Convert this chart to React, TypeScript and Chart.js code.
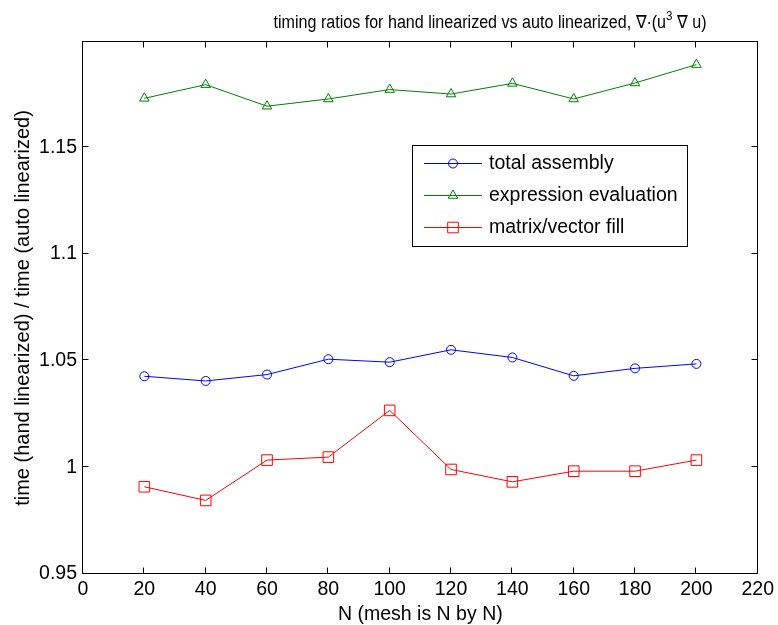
import React, { useEffect, useRef } from 'react';
import { Chart, registerables } from 'chart.js';

Chart.register(...registerables);

const nValues = [20, 40, 60, 80, 100, 120, 140, 160, 180, 200];
const totalAssembly = [1.0426, 1.0404, 1.0434, 1.0506, 1.0492, 1.055, 1.0514, 1.0428, 1.0463, 1.0484];
const expressionEvaluation = [1.1729, 1.1793, 1.1692, 1.1726, 1.177, 1.1749, 1.1799, 1.1726, 1.1801, 1.1887];
const matrixVectorFill = [0.9908, 0.9844, 1.0033, 1.0047, 1.0266, 0.9989, 0.9931, 0.9981, 0.9981, 1.0033];
const seriesNames = ['total assembly', 'expression evaluation', 'matrix/vector fill'];
const xTickValues = [0, 20, 40, 60, 80, 100, 120, 140, 160, 180, 200, 220];
const yTickValues = [0.95, 1, 1.05, 1.1, 1.15];
const titleMain = 'timing ratios for hand linearized vs auto linearized, \u2207\u00b7(u';
const titleSup = '3';
const titleTail = ' \u2207 u)';
const xAxisTitle = 'N (mesh is N by N)';
const yAxisTitle = 'time (hand linearized) / time (auto linearized)';

const FONT = '"Liberation Sans", Arial, Helvetica, sans-serif';
const FS = 19.5;
const TITLE_FS = 18;
const YLABEL_FS = 20;

function drawMarker(ctx: CanvasRenderingContext2D, style: string, x: number, y: number, color: string) {
  ctx.save();
  ctx.strokeStyle = color;
  ctx.lineWidth = 1;
  ctx.beginPath();
  if (style === 'circle') {
    ctx.arc(x, y, 4.5, 0, Math.PI * 2);
  } else if (style === 'triangle') {
    const r = 5.5;
    let a = 0;
    ctx.moveTo(x + Math.sin(a) * r, y - Math.cos(a) * r);
    a += (2 * Math.PI) / 3;
    ctx.lineTo(x + Math.sin(a) * r, y - Math.cos(a) * r);
    a += (2 * Math.PI) / 3;
    ctx.lineTo(x + Math.sin(a) * r, y - Math.cos(a) * r);
    ctx.closePath();
  } else {
    const h = 5.3;
    ctx.rect(x - h, y - h, 2 * h, 2 * h);
  }
  ctx.stroke();
  ctx.restore();
}

const decorPlugin = {
  id: 'decor',
  afterDraw(chart: any) {
    const ctx: CanvasRenderingContext2D = chart.ctx;
    const { left, right, top, bottom } = chart.chartArea;
    const xs = chart.scales.x;
    const ys = chart.scales.y;
    ctx.save();
    ctx.strokeStyle = '#000';
    ctx.lineWidth = 1;
    const L = Math.round(left) - 0.5;
    const R = Math.round(right) - 0.5;
    const T = Math.round(top) - 0.5;
    const B = Math.round(bottom) - 0.5;
    ctx.strokeRect(L, T, R - L, B - T);
    const tl = 6;
    ctx.beginPath();
    xTickValues.forEach((v) => {
      const px = Math.round(xs.getPixelForValue(v)) - 0.5;
      ctx.moveTo(px, B);
      ctx.lineTo(px, B - tl);
      ctx.moveTo(px, T);
      ctx.lineTo(px, T + tl);
    });
    yTickValues.forEach((v) => {
      const py = Math.round(ys.getPixelForValue(v)) - 0.5;
      ctx.moveTo(L, py);
      ctx.lineTo(L + tl, py);
      ctx.moveTo(R, py);
      ctx.lineTo(R - tl, py);
    });
    ctx.stroke();

    // Title with superscript (condensed to match the reference width)
    ctx.fillStyle = '#000';
    ctx.textBaseline = 'alphabetic';
    ctx.textAlign = 'left';
    const mainFont = `${FS}px ${FONT}`;
    const tFont = `${TITLE_FS}px ${FONT}`;
    const supFont = `${Math.round(TITLE_FS * 0.72)}px ${FONT}`;
    ctx.font = tFont;
    const w1 = ctx.measureText(titleMain).width;
    const w3 = ctx.measureText(titleTail).width;
    ctx.font = supFont;
    const w2 = ctx.measureText(titleSup).width;
    const total = w1 + w2 + w3;
    const targetW = 433;
    const sx = targetW / total;
    const startX = 490 - targetW / 2;
    const ty = 28;
    ctx.save();
    ctx.translate(startX, ty);
    ctx.scale(sx, 1);
    let tx = 0;
    ctx.font = tFont;
    ctx.fillText(titleMain, tx, 0);
    tx += w1;
    ctx.font = supFont;
    ctx.fillText(titleSup, tx, -8);
    tx += w2;
    ctx.font = tFont;
    ctx.fillText(titleTail, tx, 0);
    ctx.restore();

    // X axis title
    ctx.textAlign = 'center';
    ctx.font = mainFont;
    ctx.fillText(xAxisTitle, (left + right) / 2, 620);

    // Y axis title
    ctx.save();
    ctx.translate(29, (top + bottom) / 2);
    ctx.rotate(-Math.PI / 2);
    ctx.textAlign = 'center';
    ctx.font = `${YLABEL_FS}px ${FONT}`;
    ctx.fillText(yAxisTitle, 0, 0);
    ctx.restore();

    // Legend
    const bx = 412.5, by = 145.5, bw = 275, bh = 101;
    ctx.fillStyle = '#fff';
    ctx.fillRect(bx, by, bw, bh);
    ctx.strokeStyle = '#000';
    ctx.strokeRect(bx, by, bw, bh);
    const rowY = [163, 195, 227];
    chart.data.datasets.forEach((ds: any, i: number) => {
      const yy = rowY[i];
      ctx.strokeStyle = ds.borderColor;
      ctx.lineWidth = 1;
      ctx.beginPath();
      ctx.moveTo(424, yy + 0.5);
      ctx.lineTo(482, yy + 0.5);
      ctx.stroke();
      drawMarker(ctx, ds.pointStyle, 453, yy + 0.5, ds.borderColor);
      ctx.fillStyle = '#000';
      ctx.font = mainFont;
      ctx.textAlign = 'left';
      ctx.textBaseline = 'middle';
      ctx.fillText(ds.label, 489, yy + 1);
    });
    ctx.restore();
  },
};

export default function App() {
  const ref = useRef<HTMLCanvasElement | null>(null);
  useEffect(() => {
    const canvas = ref.current;
    if (!canvas) return;
    const mk = (label: string, vals: number[], color: string, style: string, radius: number) => ({
      label,
      data: nValues.map((n, i) => ({ x: n, y: vals[i] })),
      borderColor: color,
      backgroundColor: 'rgba(0,0,0,0)',
      pointStyle: style,
      pointRadius: radius,
      pointBorderColor: color,
      pointBackgroundColor: 'rgba(0,0,0,0)',
      pointBorderWidth: 1,
      borderWidth: 1,
      tension: 0,
      fill: false,
    });
    const chart = new Chart(canvas, {
      type: 'line',
      data: {
        datasets: [
          mk(seriesNames[0], totalAssembly, '#0000ff', 'circle', 4.5),
          mk(seriesNames[1], expressionEvaluation, '#008000', 'triangle', 5.5),
          mk(seriesNames[2], matrixVectorFill, '#ff0000', 'rect', 7.5),
        ] as any,
      },
      options: {
        responsive: false,
        animation: false,
        layout: { padding: { top: 42, right: 20, left: 0, bottom: 0 } },
        plugins: { legend: { display: false }, tooltip: { enabled: false }, title: { display: false } },
        scales: {
          x: {
            type: 'linear',
            min: 0,
            max: 220,
            afterBuildTicks: (s: any) => {
              s.ticks = xTickValues.map((v) => ({ value: v }));
            },
            afterFit: (s: any) => {
              s.height = 51;
            },
            grid: { display: false, drawTicks: false },
            border: { display: false },
            ticks: {
              color: '#000',
              font: { family: FONT, size: FS },
              padding: 4,
              maxRotation: 0,
              autoSkip: false,
              callback: (v: any) => String(v),
            },
          },
          y: {
            type: 'linear',
            min: 0.9499,
            max: 1.1993,
            afterBuildTicks: (s: any) => {
              s.ticks = yTickValues.map((v) => ({ value: v }));
            },
            afterFit: (s: any) => {
              s.width = 83;
            },
            grid: { display: false, drawTicks: false },
            border: { display: false },
            ticks: {
              color: '#000',
              font: { family: FONT, size: FS },
              padding: 6,
              autoSkip: false,
              callback: (v: any) => String(Number(Number(v).toFixed(2))),
            },
          },
        },
      } as any,
      plugins: [decorPlugin],
    });
    return () => chart.destroy();
  }, []);
  return (
    <div style={{ position: 'absolute', left: 0, top: 0, width: 778, height: 625, background: '#fff' }}>
      <canvas ref={ref} width={778} height={625} style={{ display: 'block' }} />
    </div>
  );
}
